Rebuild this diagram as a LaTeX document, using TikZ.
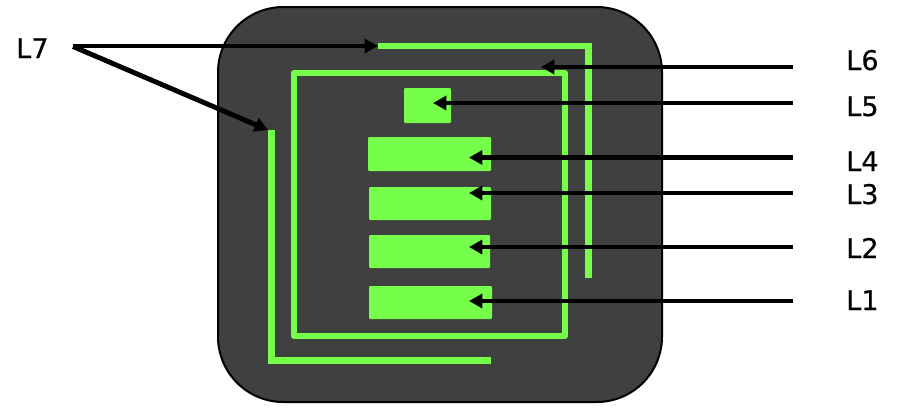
\documentclass[tikz,border=0pt]{standalone}
\usepackage{fontspec}
\setmainfont[RawFeature={embolden=0.4}]{DejaVu Sans}
\usetikzlibrary{arrows.meta}
\definecolor{chip}{HTML}{404040}
\definecolor{trace}{HTML}{76FF4A}
\tikzset{
  x=0.75pt,y=-0.75pt,
  chipbody/.style={draw=black,line width=1.5pt,fill=chip,rounded corners=49pt},
  traceline/.style={draw=trace,line width=4.7pt,line join=miter},
  pad/.style={fill=trace,rounded corners=0.8pt},
  leader/.style={draw=black,line width=3.7pt,-{Triangle[length=10pt,width=10.5pt]}},
  layerlabel/.style={anchor=base west,inner sep=0pt,font=\fontsize{20.3pt}{24pt}\selectfont,text=black},
}
\begin{document}
\begin{tikzpicture}
\useasboundingbox (0,0) rectangle (906,408);
\path[chipbody] (218,7) rectangle (662,402);
% L7 traces
\draw[traceline] (378,46) -- (588.5,46) -- (588.5,278);
\draw[traceline] (271.5,130) -- (271.5,360.5) -- (491,360.5);
% L6 ring
\draw[traceline,line join=round] (294,73.3) rectangle (565,335.7);
% pads
\path[pad] (404,88) rectangle (451,123);
\path[pad] (368,137) rectangle (491,171);
\path[pad] (369,187) rectangle (491,220);
\path[pad] (369,235) rectangle (490,268);
\path[pad] (369,286) rectangle (492,319);
% labels
\node[layerlabel] (l7) at (16,58) {L7};
\node[layerlabel] (l6) at (846,70) {L6};
\node[layerlabel] (l5) at (846,116) {L5};
\node[layerlabel] (l4) at (846,171) {L4};
\node[layerlabel] (l3) at (846,204) {L3};
\node[layerlabel] (l2) at (846,258) {L2};
\node[layerlabel] (l1) at (846,310) {L1};
% leader ends
\coordinate (s7) at (73,46);
\coordinate (s7b) at (73,46.5);
\coordinate (t7a) at (378,46);
\coordinate (t7b) at (268,130);
\coordinate (s6) at (793,67); \coordinate (t6) at (541,67);
\coordinate (s5) at (793,103); \coordinate (t5) at (433,103);
\coordinate (s4) at (793,157.5); \coordinate (t4) at (469,157.5);
\coordinate (s3) at (793,193); \coordinate (t3) at (469,193);
\coordinate (s2) at (793,247); \coordinate (t2) at (469,247);
\coordinate (s1) at (793,301); \coordinate (t1) at (469,301);
\draw[leader] (s7) -- (t7a);
\draw[leader] (s7b) -- (t7b);
\draw[leader] (s6) -- (t6);
\draw[leader] (s5) -- (t5);
\draw[leader] (s4) -- (t4);
\draw[leader] (s3) -- (t3);
\draw[leader] (s2) -- (t2);
\draw[leader] (s1) -- (t1);
\end{tikzpicture}
\end{document}
